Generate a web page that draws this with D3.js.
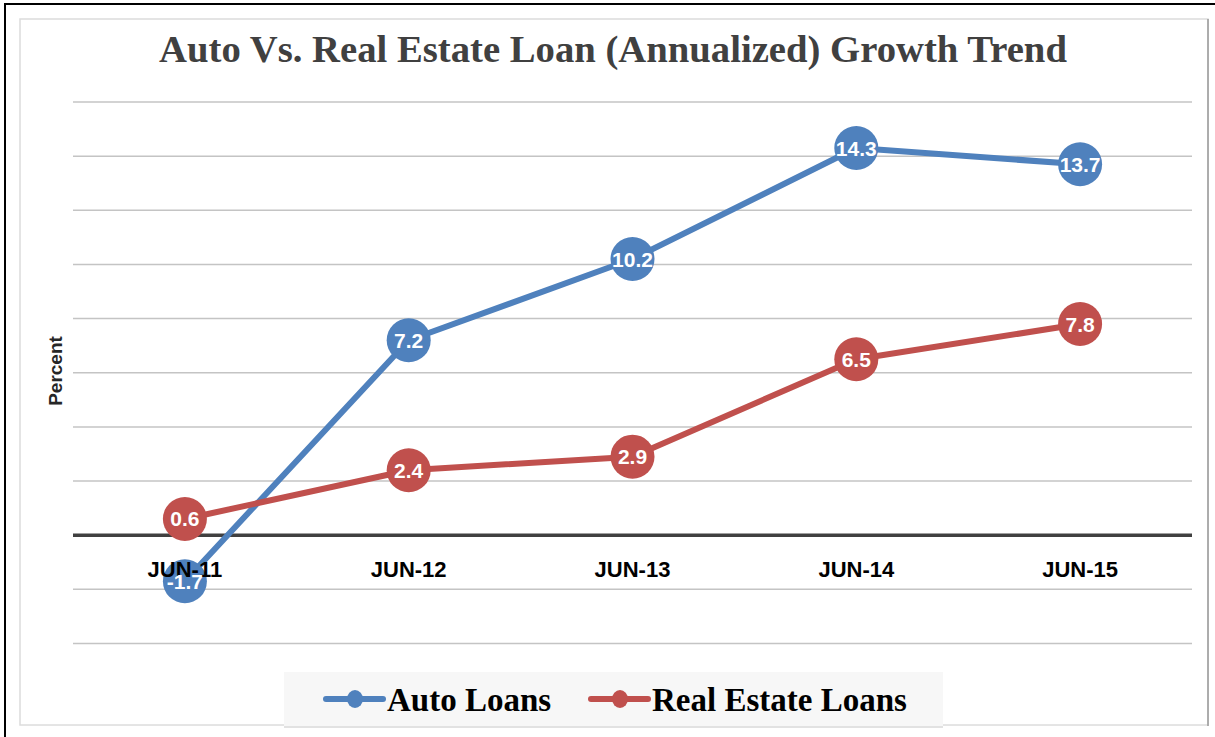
<!DOCTYPE html>
<html>
<head>
<meta charset="utf-8">
<script src="https://cdn.jsdelivr.net/npm/d3@7"></script>
<style>
  body { margin: 0; background: #fff; }
  #chart-div { width: 1215px; height: 737px; }
</style>
</head>
<body>
<div id="chart-div"></div>
<script>
// data
var categories = ["JUN-11", "JUN-12", "JUN-13", "JUN-14", "JUN-15"];
var autoLoans = [-1.7, 7.2, 10.2, 14.3, 13.7];
var realEstateLoans = [0.6, 2.4, 2.9, 6.5, 7.8];
var yTicks = [-4, -2, 0, 2, 4, 6, 8, 10, 12, 14, 16];

var series = [
  { name: "Auto Loans", values: autoLoans, color: "#4F81BD" },
  { name: "Real Estate Loans", values: realEstateLoans, color: "#C0504D" }
];

var width = 1215, height = 737;
var margin = { top: 102, right: 23, bottom: 94, left: 73 };

var svg = d3.select('#chart-div').append('svg')
  .attr('width', width)
  .attr('height', height);

// outer black frame + chart frame
svg.append("rect")
  .attr("x", 5).attr("y", 4)
  .attr("width", width + 10).attr("height", height + 10)
  .attr("fill", "none").attr("stroke", "#000").attr("stroke-width", 2);

svg.append("rect")
  .attr("x", 20).attr("y", 19)
  .attr("width", 1188).attr("height", 706)
  .attr("fill", "#fff").attr("stroke", "#dcdcdc").attr("stroke-width", 1.5);
svg.append("line")
  .attr("x1", 1208).attr("x2", 1208).attr("y1", 19).attr("y2", 726)
  .attr("stroke", "#9a9a9a").attr("stroke-width", 1.5);

var plotW = width - margin.left - margin.right;
var plotH = height - margin.top - margin.bottom;

var g = svg.append('g')
  .attr('transform', 'translate(' + margin.left + ',' + margin.top + ')');

var x = d3.scaleBand().domain(categories).range([0, plotW]);
var y = d3.scaleLinear().domain([-4, 16]).range([plotH + 0.5, 0]);
var cx = function(i) { return x(categories[i]) + x.bandwidth() / 2; };

// gridlines
g.append("g")
  .selectAll("line")
  .data(yTicks.filter(function(d) { return d !== 0; }))
  .enter().append("line")
    .attr("x1", 0).attr("x2", plotW)
    .attr("y1", function(d) { return y(d); })
    .attr("y2", function(d) { return y(d); })
    .attr("stroke", "#c4c4c4")
    .attr("stroke-width", 1.5);

// zero line
g.append("line")
  .attr("x1", 0).attr("x2", plotW)
  .attr("y1", y(0)).attr("y2", y(0))
  .attr("stroke", "#404040")
  .attr("stroke-width", 3.5);

// title
svg.append("text")
  .attr("x", 613)
  .attr("y", 62)
  .attr("text-anchor", "middle")
  .attr("font-family", "Liberation Serif, Times New Roman, serif")
  .attr("font-weight", "bold")
  .attr("font-size", 38.7)
  .attr("fill", "#404040")
  .text("Auto Vs. Real Estate Loan (Annualized) Growth Trend");

// y axis title
svg.append("text")
  .attr("transform", "translate(62,371) rotate(-90)")
  .attr("text-anchor", "middle")
  .attr("font-family", "Liberation Sans, Arial, sans-serif")
  .attr("font-weight", "bold")
  .attr("font-size", 19)
  .attr("fill", "#262626")
  .text("Percent");

var lineGen = d3.line()
  .x(function(d, i) { return cx(i); })
  .y(function(d) { return y(d); });

var lineLayer = g.append("g");
var catLayer = g.append("g");
var labelLayer = g.append("g");

series.forEach(function(s) {
  lineLayer.append("path")
    .datum(s.values)
    .attr("d", lineGen)
    .attr("fill", "none")
    .attr("stroke", s.color)
    .attr("stroke-width", 6)
    .attr("stroke-linejoin", "round");

  lineLayer.selectAll(null)
    .data(s.values)
    .enter().append("circle")
      .attr("cx", function(d, i) { return cx(i); })
      .attr("cy", function(d) { return y(d); })
      .attr("r", 22)
      .attr("fill", s.color);

  labelLayer.selectAll(null)
    .data(s.values)
    .enter().append("text")
      .attr("x", function(d, i) { return cx(i); })
      .attr("y", function(d) { return y(d) + 7.5; })
      .attr("text-anchor", "middle")
      .attr("font-family", "Liberation Sans, Arial, sans-serif")
      .attr("font-weight", "bold")
      .attr("font-size", 21)
      .attr("fill", "#fff")
      .text(function(d) { return d.toFixed(1); });
});

// category labels drawn over the markers, just below zero line
catLayer.selectAll("text")
  .data(categories)
  .enter().append("text")
    .attr("x", function(d, i) { return cx(i); })
    .attr("y", y(0) + 42)
    .attr("text-anchor", "middle")
    .attr("font-family", "Liberation Sans, Arial, sans-serif")
    .attr("font-weight", "bold")
    .attr("font-size", 22)
    .attr("fill", "#000")
    .text(function(d) { return d; });

// legend
var legend = svg.append("g");
legend.append("rect")
  .attr("x", 284).attr("y", 672)
  .attr("width", 659).attr("height", 54)
  .attr("fill", "#f7f7f7");
legend.append("line")
  .attr("x1", 284).attr("x2", 943).attr("y1", 727).attr("y2", 727)
  .attr("stroke", "#e2e2e2").attr("stroke-width", 2);

var legendX = [326, 591];
series.forEach(function(s, i) {
  var lg = legend.append("g")
    .attr("transform", "translate(" + legendX[i] + ",699)");
  lg.append("line")
    .attr("x1", 0).attr("x2", 57)
    .attr("stroke", s.color)
    .attr("stroke-width", 6)
    .attr("stroke-linecap", "round");
  lg.append("ellipse")
    .attr("cx", 29).attr("rx", 8).attr("ry", 9)
    .attr("fill", s.color);
  lg.append("text")
    .attr("x", 61)
    .attr("y", 12)
    .attr("font-family", "Liberation Serif, Times New Roman, serif")
    .attr("font-weight", "bold")
    .attr("font-size", 33)
    .attr("fill", "#000")
    .text(s.name);
});
</script>
</body>
</html>
